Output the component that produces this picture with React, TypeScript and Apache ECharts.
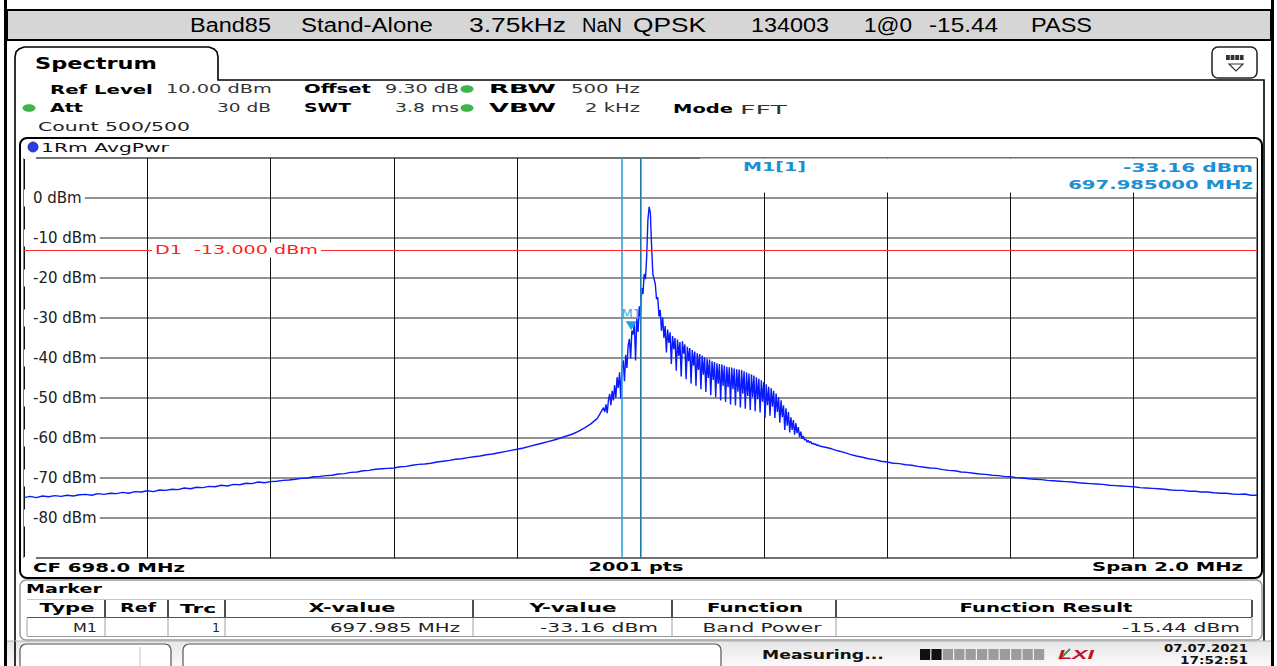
import React, { useEffect, useRef } from "react";
import * as echarts from "echarts";

const W = 1277;
const H = 666;

// ---- trace data (dBm) ----
const CENTER_MHZ = 698.0;
const leftWingStartMHz = 697.0;
const leftWingStepMHz = 0.01;
const leftWing = [
  -74.9, -74.6, -74.9, -74.5, -74.7, -74.4, -74.6, -74.3, -74.5, -74.2,
  -74.1, -74.3, -73.9, -74.1, -73.8, -73.9, -73.6, -73.8, -73.4, -73.5,
  -73.2, -73.4, -73.0, -73.1, -72.8, -72.9, -72.5, -72.7, -72.3, -72.4,
  -72.1, -72.2, -71.8, -72.0, -71.6, -71.7, -71.3, -71.4, -71.0, -71.2,
  -70.9, -70.8, -70.6, -70.5, -70.3, -70.1, -70.0, -69.7, -69.6, -69.4,
  -69.3, -69.0, -68.9, -68.6, -68.5, -68.2, -68.1, -67.8, -67.7, -67.6,
  -67.5, -67.2, -67.1, -66.8, -66.6, -66.5, -66.3, -66.0, -65.8, -65.6,
  -65.3, -65.2, -64.9, -64.7, -64.5, -64.2, -64.0, -63.7, -63.4, -63.1,
  -62.8, -62.5, -62.1, -61.7, -61.3, -60.9, -60.5, -60.0, -59.5, -59.0,
  -58.3, -57.4, -56.4, -55.1,
];
const coreStartMHz = 697.94;
const coreStepMHz = 0.002;
const core = [
  -52.4, -53.5, -51.6, -53.8, -50.5, -49.0, -51.8, -48.2, -50.6, -46.8,
  -49.9, -44.8, -47.5, -43.6, -50.2, -42.1, -40.6, -45.8, -39.2, -42.5,
  -36.8, -35.2, -40.1, -33.2, -34.1, -31.4, -40.6, -30.2, -33.5, -27.1,
  -29.8, -22.5, -24.0, -19.0, -20.3, -14.8, -5.5, -2.2, -3.8, -12.0,
  -19.0, -20.2, -21.5, -25.3, -24.8, -29.6, -28.0, -33.2, -29.9, -35.0,
  -32.0, -38.6, -32.9, -36.2, -33.6, -41.5, -34.5, -37.8, -35.0, -43.2,
  -35.4, -39.5, -36.0, -44.6, -35.8, -38.9, -36.6, -45.3, -37.2, -40.8,
  -37.5, -46.4, -38.0, -41.9, -38.4, -47.0, -38.8, -43.0, -39.0, -47.8,
  -39.4, -44.2, -39.8, -48.5, -40.2, -45.0, -40.4, -49.3, -40.8, -45.5,
  -41.0, -49.8, -41.3, -46.4, -41.5, -50.6, -41.6, -47.0, -41.9, -51.0,
  -42.2, -47.3, -42.3, -51.6, -42.4, -47.8, -42.6, -51.9, -42.8, -48.4,
  -42.9, -52.4, -43.0, -48.9, -43.3, -52.7, -43.6, -49.5, -43.9, -53.0,
  -44.1, -49.8, -44.4, -53.3, -44.8, -50.3, -45.2, -53.6, -45.6, -50.9,
  -46.0, -55.0, -46.6, -51.8, -47.2, -54.4, -47.6, -52.2, -48.2, -55.0,
  -48.9, -53.5, -49.8, -56.2, -50.6, -54.8, -51.8, -58.0, -52.6, -56.9,
  -53.5, -58.6, -54.8, -58.0, -55.5, -59.2, -56.3, -58.8, -57.3, -59.8,
  -58.4, -60.2, -59.5, -60.5, -60.3, -61.0, -60.6, -61.2, -60.9, -61.5,
  -61.3, -61.6, -61.5, -61.9, -61.7, -62.0,
];
const rightWingStartMHz = 698.3;
const rightWingStepMHz = 0.01;
const rightWing = [
  -62.3, -62.7, -63.2, -63.6, -64.1, -64.5, -64.8, -65.2, -65.4, -65.8,
  -66.0, -66.3, -66.4, -66.7, -66.8, -67.1, -67.3, -67.5, -67.6, -67.9,
  -68.1, -68.2, -68.5, -68.6, -68.8, -69.0, -69.1, -69.3, -69.4, -69.6,
  -69.7, -69.9, -70.0, -70.2, -70.3, -70.4, -70.6, -70.7, -70.8, -70.9,
  -71.0, -71.2, -71.3, -71.4, -71.5, -71.6, -71.8, -71.9, -72.0, -72.1,
  -72.2, -72.4, -72.5, -72.6, -72.7, -72.8, -73.0, -73.1, -73.1, -73.3,
  -73.3, -73.5, -73.5, -73.7, -73.8, -73.8, -74.0, -74.1, -74.0, -74.3, -74.3,
];

// ---- axis / marker values ----
const levelTicks = [0, -10, -20, -30, -40, -50, -60, -70, -80];
const refLevel = 10;
const bottomLevel = -90;
const spanKHz = 2000;
const divKHz = 200;
const m1FreqMHz = 697.985;
const m1Level = -33.16;
const bandEdgesMHz = [697.97, 698.0];
const d1Level = -13.0;

// ---- texts ----
const headerWords = ["Band85", "Stand-Alone", "3.75kHz", "NaN", "QPSK", "134003", "1@0", "-15.44", "PASS"];
const tableHeaders = ["Type", "Ref", "Trc", "X-value", "Y-value", "Function", "Function Result"];
const tableRow = ["M1", "", "1", "697.985 MHz", "-33.16 dBm", "Band Power", "-15.44 dBm"];

const FONT = '"DejaVu Sans"';
const BLUE = "#1d8fd3";

let measureCtx: CanvasRenderingContext2D | null = null;
function measure(text: string, font: string) {
  if (!measureCtx) measureCtx = document.createElement("canvas").getContext("2d");
  if (!measureCtx) return text.length * 7;
  measureCtx.font = font;
  return measureCtx.measureText(text).width || 1;
}

type TOpts = { size?: number; bold?: boolean; italic?: boolean; color?: string; align?: string; family?: string; z?: number; bg?: string; pad?: number[] };
function T(text: string, x: number, y: number, w: number | null, o: TOpts = {}) {
  const size = o.size ?? 13;
  const font = `${o.italic ? "italic " : ""}${o.bold ? "bold " : ""}${size}px ${o.family ?? FONT}`;
  const m = measure(text, font);
  const sx = w ? w / m : 1;
  const style: any = {
    text,
    font,
    fill: o.color ?? "#111",
    textAlign: o.align ?? "left",
    align: o.align ?? "left",
    textVerticalAlign: "middle",
    verticalAlign: "middle",
  };
  if (o.bg) {
    style.backgroundColor = o.bg;
    style.padding = o.pad ?? [0, 0];
  }
  return { type: "text", x, y, scaleX: sx, z: o.z ?? 20, silent: true, style };
}

function rect(x: number, y: number, w: number, h: number, style: any, z = 1, r = 0) {
  return { type: "rect", shape: { x, y, width: w, height: h, r }, style, z, silent: true };
}
function line(x1: number, y1: number, x2: number, y2: number, stroke: string, lw = 1, z = 1) {
  return { type: "line", shape: { x1, y1, x2, y2 }, style: { stroke, lineWidth: lw }, z, silent: true };
}

function buildTrace() {
  const pts: number[][] = [];
  leftWing.forEach((v, i) => pts.push([(leftWingStartMHz + i * leftWingStepMHz - CENTER_MHZ) * 1000, v]));
  core.forEach((v, i) => pts.push([(coreStartMHz + i * coreStepMHz - CENTER_MHZ) * 1000, v]));
  rightWing.forEach((v, i) => pts.push([(rightWingStartMHz + i * rightWingStepMHz - CENTER_MHZ) * 1000, v]));
  return pts;
}

function buildGraphics() {
  const g: any[] = [];
  // outer frame
  g.push(rect(4, 0, 3, H, { fill: "#000" }, 2));
  g.push(rect(1271, 0, 3, H, { fill: "#000" }, 2));
  // header bar
  g.push(rect(7, 10, 1264, 30, { fill: "#d6d6d6", stroke: "#000", lineWidth: 2 }, 2));
  const hx = [190, 301, 469, 582, 633, 751, 864, 929, 1031];
  const hw = [81, 132, 97, 40, 73, 78, 48, 69, 61];
  headerWords.forEach((t, i) => g.push(T(t, hx[i], 25, hw[i], { size: 20, family: '"Liberation Sans"', color: "#000" })));

  // spectrum tab + panel outline
  g.push({
    type: "polyline",
    shape: { points: [[15, 666], [15, 57], [16, 52], [19, 49], [24, 47], [209, 47], [214, 49], [217, 52], [218, 57], [218, 80], [1264, 80], [1264, 641]] },
    style: { stroke: "#000", lineWidth: 1.6, fill: null },
    z: 2,
    silent: true,
  });
  g.push(T("Spectrum", 35, 64, 122, { size: 16, bold: true, color: "#000" }));
  // icon box top-right
  g.push(rect(1212, 47, 45, 31, { fill: "#fff", stroke: "#222", lineWidth: 1.5 }, 2, 6));
  for (let k = 0; k < 4; k++) g.push(rect(1226 + k * 4.6, 55, 3.8, 5, { fill: "#333" }, 3));
  g.push({ type: "polygon", shape: { points: [[1229, 64], [1243, 64], [1236, 71]] }, style: { stroke: "#333", lineWidth: 1.2, fill: "#fff" }, z: 3, silent: true });

  // parameter rows
  g.push(T("Ref Level", 50, 89, 103, { bold: true, color: "#000" }));
  g.push(T("10.00 dBm", 166, 89, 106, { color: "#333" }));
  g.push(T("Offset", 304, 89, 67, { bold: true, color: "#000" }));
  g.push(T("9.30 dB", 385, 89, 74, { color: "#333" }));
  g.push(T("RBW", 489, 89, 67, { bold: true, color: "#000" }));
  g.push(T("500 Hz", 571, 89, 69, { color: "#333" }));
  g.push(T("Att", 50, 108, 33, { bold: true, color: "#000" }));
  g.push(T("30 dB", 271, 108, 54, { color: "#333", align: "right" }));
  g.push(T("SWT", 304, 108, 47, { bold: true, color: "#000" }));
  g.push(T("3.8 ms", 459, 108, 64, { color: "#333", align: "right" }));
  g.push(T("VBW", 489, 108, 67, { bold: true, color: "#000" }));
  g.push(T("2 kHz", 640, 108, 55, { color: "#333", align: "right" }));
  g.push(T("Mode", 673, 109, 60, { bold: true, color: "#000" }));
  g.push(T("FFT", 740, 109, 47, { color: "#333" }));
  g.push(T("Count 500/500", 38, 126, 152, { color: "#222" }));
  [[467, 89], [467, 108], [29, 108]].forEach(([cx, cy]) =>
    g.push({ type: "ellipse", shape: { cx, cy, rx: 6.5, ry: 3.8 }, style: { fill: "#3db34a" }, z: 3, silent: true })
  );

  // plot panel
  g.push(rect(20, 138, 1242, 440, { fill: null, stroke: "#000", lineWidth: 2 }, 2, 7));
  g.push({ type: "circle", shape: { cx: 33, cy: 147, r: 5 }, style: { fill: "#2a3ee8", stroke: "#102090", lineWidth: 0.8 }, z: 3, silent: true });
  g.push(T("1Rm AvgPwr", 41, 147, 128, { color: "#111" }));
  // marker readout area (covers the top of the grid lines)
  g.push(rect(700, 158.6, 556.5, 34, { fill: "#fff" }, 5));
  g.push(T("M1[1]", 743, 167, 63, { bold: true, color: BLUE }));
  g.push(T("-33.16 dBm", 1253, 167, 130, { bold: true, color: BLUE, align: "right" }));
  g.push(T("697.985000 MHz", 1253, 185, 185, { bold: true, color: BLUE, align: "right" }));
  // D1 label
  g.push(T("D1  -13.000 dBm", 152, 250, 163, { color: "#ff2020", bg: "#fff", pad: [1, 2] }));
  // bottom labels of the graph
  g.push(T("CF 698.0 MHz", 33, 567, 152, { bold: true, color: "#000" }));
  g.push(T("2001 pts", 636, 567, 95, { bold: true, color: "#000", align: "center" }));
  g.push(T("Span 2.0 MHz", 1243, 567, 151, { bold: true, color: "#000", align: "right" }));

  // marker table
  g.push(rect(20, 580, 1242, 60, { fill: null, stroke: "#9a9a9a", lineWidth: 1.5 }, 2, 6));
  g.push(T("Marker", 26, 589, 76, { bold: true, color: "#000" }));
  const colX = [27, 105, 168, 225, 473, 672, 836, 1252];
  g.push(line(27, 599.5, 1252, 599.5, "#c8c8c8", 1, 3));
  g.push(line(27, 617.5, 1252, 617.5, "#555", 1, 3));
  g.push(line(27, 636.5, 1252, 636.5, "#9a9a9a", 1, 3));
  colX.forEach((x, i) => {
    if (i > 0) g.push(line(x, 600, x, 617, "#222", 1.6, 3));
    g.push(line(x, 618, x, 636, "#a0a0a0", 1, 3));
  });
  const hCenters = [67, 138, 198, 352, 573, 755, 1046];
  const hW = [55, 36, 36, 87, 87, 96, 173];
  tableHeaders.forEach((t, i) => g.push(T(t, hCenters[i], 608, hW[i], { bold: true, color: "#000", align: "center" })));
  const dX = [97, 160, 220, 460, 658, 762, 1240];
  const dW = [24, 0, 8, 130, 118, 119, 118];
  const dA = ["right", "right", "right", "right", "right", "center", "right"];
  tableRow.forEach((t, i) => {
    if (t) g.push(T(t, dX[i], 627, dW[i], { color: "#222", align: dA[i] }));
  });

  // status bar
  g.push(rect(7, 641, 1264, 25, { fill: new echarts.graphic.LinearGradient(0, 0, 0, 1, [{ offset: 0, color: "#e6e6e6" }, { offset: 1, color: "#fafafa" }]) }, 1));
  g.push(line(7, 641, 1271, 641, "#b0b0b0", 1, 2));
  g.push(rect(20, 644, 151, 30, { fill: "#fff", stroke: "#555", lineWidth: 1.2 }, 2, 6));
  g.push(line(140, 647, 140, 666, "#c8c8c8", 1, 3));
  g.push(rect(183, 644, 538, 30, { fill: "#fff", stroke: "#555", lineWidth: 1.2 }, 2, 6));
  g.push(T("Measuring...", 762, 655, 122, { bold: true, color: "#111" }));
  for (let k = 0; k < 11; k++) {
    g.push(rect(920 + k * 11.4, 649, 10.2, 11, { fill: k < 2 ? "#111" : "#9c9c9c" }, 3));
  }
  g.push(T("LXI", 1058, 654, 36, { bold: true, italic: true, color: "#c3102c", family: '"Liberation Sans"' }));
  g.push(line(1060, 659, 1070, 649, "#2f9a3a", 2, 4));
  g.push(T("07.07.2021", 1248, 648, 84, { bold: true, size: 11, color: "#111", align: "right" }));
  g.push(T("17:52:51", 1248, 660, 68, { bold: true, size: 11, color: "#111", align: "right" }));
  return g;
}

function buildOption() {
  const toKHz = (mhz: number) => (mhz - CENTER_MHZ) * 1000;
  return {
    animation: false,
    backgroundColor: "#fff",
    grid: { left: 24, top: 158, width: 1233, height: 400, show: true, borderColor: "#000", borderWidth: 1, backgroundColor: "transparent" },
    xAxis: {
      type: "value",
      min: -spanKHz / 2,
      max: spanKHz / 2,
      interval: divKHz,
      axisLine: { show: false },
      axisTick: { show: false },
      axisLabel: { show: false },
      splitLine: { show: true, lineStyle: { color: "#111", width: 1 } },
    },
    yAxis: [
      {
        type: "value",
        min: bottomLevel,
        max: refLevel,
        interval: 10,
        axisLine: { show: false },
        axisTick: { show: false },
        axisLabel: { show: false },
        splitLine: { show: true, lineStyle: { color: "#6e6e6e", width: 1.5 } },
      },
      {
        type: "value",
        position: "left",
        min: bottomLevel,
        max: refLevel,
        interval: 10,
        z: 6,
        axisLine: { show: false },
        axisTick: { show: false },
        splitLine: { show: false },
        axisLabel: {
          show: true,
          inside: true,
          margin: 0,
          formatter: (v: number) => (levelTicks.indexOf(v) >= 0 ? `${v} dBm` : ""),
          color: "#222",
          fontFamily: "DejaVu Sans",
          fontSize: 15,
          backgroundColor: "#fff",
          padding: [1, 3, 1, 9],
        },
      },
    ],
    series: [
      {
        type: "line",
        data: buildTrace(),
        yAxisIndex: 0,
        showSymbol: false,
        symbol: "none",
        silent: true,
        z: 3,
        lineStyle: { color: "#0a1aff", width: 1.4 },
        markLine: {
          symbol: "none",
          silent: true,
          animation: false,
          label: { show: false },
          data: [
            { xAxis: toKHz(bandEdgesMHz[0]), lineStyle: { color: "#1e9fe0", width: 1.5, type: "solid" } },
            { xAxis: toKHz(bandEdgesMHz[1]), lineStyle: { color: "#1e9fe0", width: 1.5, type: "solid" } },
            { yAxis: d1Level, lineStyle: { color: "#ff2a2a", width: 1, type: "solid" } },
          ],
        },
        markPoint: {
          silent: true,
          animation: false,
          symbol: "triangle",
          symbolSize: [11, 9],
          symbolRotate: 180,
          symbolOffset: [0, -5],
          itemStyle: { color: "#1e9fe0" },
          label: { show: true, position: "top", distance: 1, formatter: "M1", color: "#3aa8e0", fontSize: 13, fontFamily: "DejaVu Sans" },
          data: [{ coord: [toKHz(m1FreqMHz), m1Level] }],
        },
      },
    ],
    graphic: { elements: buildGraphics() },
  };
}

export default function App() {
  const ref = useRef<HTMLDivElement>(null);
  useEffect(() => {
    if (!ref.current) return;
    const chart = echarts.init(ref.current, null, { renderer: "svg", width: W, height: H });
    chart.setOption(buildOption() as any);
    return () => chart.dispose();
  }, []);
  return <div ref={ref} style={{ position: "fixed", left: 0, top: 0, width: W, height: H, background: "#fff" }} />;
}
